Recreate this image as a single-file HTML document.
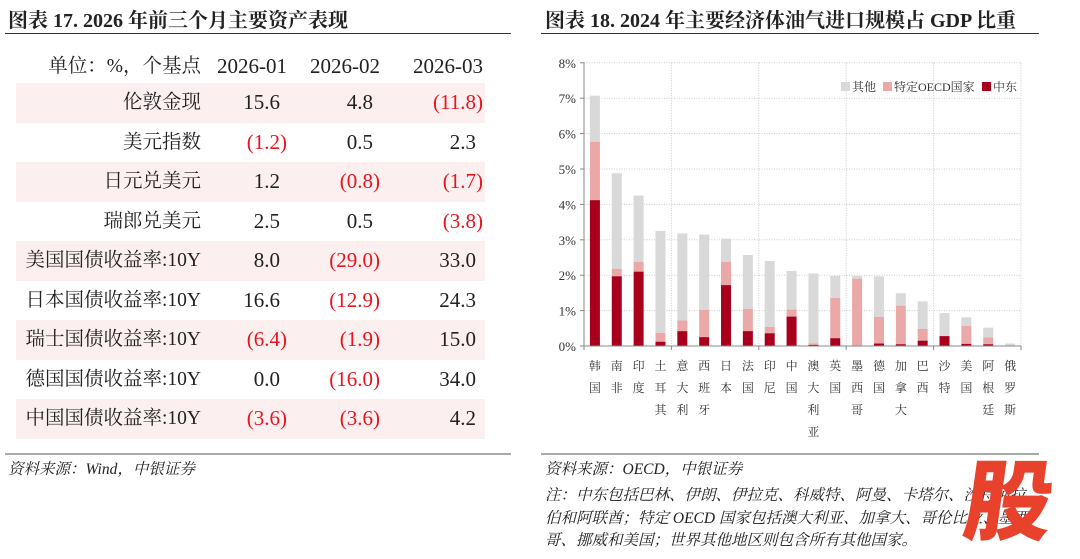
<!DOCTYPE html>
<html><head><meta charset="utf-8"><style>
body{margin:0;width:1080px;height:551px;background:#fff;position:relative;overflow:hidden;font-family:"Liberation Serif","Noto Serif CJK SC",serif;color:#222}
.abs{position:absolute;white-space:nowrap}
.title{font-weight:bold;font-size:20px;top:4px}
.rule{position:absolute;height:1px;background:#333}
.brule{position:absolute;height:2px;background:#aaa}
.row{position:absolute;left:16px;width:469px;height:39.5px}
.sh{background:#fcefef}
.c{position:absolute;font-size:21px;line-height:39px;text-align:right}
.lab{font-size:19.5px}
.r{color:#e8141e}
.src{font-style:italic;font-size:15.5px}
</style></head><body>
<div class="abs title" style="left:8px">图表 17. 2026 年前三个月主要资产表现</div>
<div class="rule" style="left:5px;top:33px;width:506px"></div>
<div class="abs title" style="left:545px">图表 18. 2024 年主要经济体油气进口规模占 GDP 比重</div>
<div class="rule" style="left:541px;top:33px;width:498px"></div>

<div id="tbl"></div>

<div class="brule" style="left:5px;top:453px;width:506px"></div>
<div class="abs src" style="left:8px;top:457px">资料来源：Wind，中银证券</div>
<div class="brule" style="left:541px;top:453px;width:498px"></div>
<div class="abs src" style="left:545px;top:457px">资料来源：OECD，中银证券</div>
<div class="abs src" style="left:545px;top:483px">注：中东包括巴林、伊朗、伊拉克、科威特、阿曼、卡塔尔、沙特阿拉</div>
<div class="abs src" style="left:545px;top:506px">伯和阿联酋；特定 OECD 国家包括澳大利亚、加拿大、哥伦比亚、墨西</div>
<div class="abs src" style="left:545px;top:528px">哥、挪威和美国；世界其他地区则包含所有其他国家。</div>

<svg class="abs" style="left:0;top:0" width="1080" height="551" id="ch"></svg>
<div class="abs" style="left:966px;top:448px;font-family:'Noto Sans CJK SC',sans-serif;font-weight:900;font-size:88px;line-height:96px;color:#e8412c;transform:skewX(-8deg)">股</div>

<script>
var rows=[["单位：%，个基点","2026-01","2026-02","2026-03"],
["伦敦金现","15.6","4.8","(11.8)"],["美元指数","(1.2)","0.5","2.3"],["日元兑美元","1.2","(0.8)","(1.7)"],
["瑞郎兑美元","2.5","0.5","(3.8)"],["美国国债收益率:10Y","8.0","(29.0)","33.0"],["日本国债收益率:10Y","16.6","(12.9)","24.3"],
["瑞士国债收益率:10Y","(6.4)","(1.9)","15.0"],["德国国债收益率:10Y","0.0","(16.0)","34.0"],["中国国债收益率:10Y","(3.6)","(3.6)","4.2"]];
var h="",rights=[287,380,483];
rows.forEach(function(r,i){
 var top=i==0?47:83+(i-1)*39.5;
 h+='<div class="row'+(i%2==1?' sh':'')+'" style="top:'+top+'px"></div>';
 h+='<div class="c lab" style="top:'+top+'px;right:'+(1080-201)+'px">'+r[0]+'</div>';
 for(var j=1;j<4;j++){var v=r[j],neg=v[0]=="(";var pr=rights[j-1]-(i>0&&!neg?7:0);
  h+='<div class="c'+(neg?' r':'')+'" style="top:'+top+'px;right:'+(1080-pr)+'px">'+v+'</div>';}
});
document.getElementById('tbl').innerHTML=h;
var d=[["韩国",4.12,5.77,7.07],["南非",1.97,2.18,4.88],["印度",2.1,2.38,4.25],["土耳其",0.12,0.37,3.25],["意大利",0.42,0.72,3.18],
["西班牙",0.25,1.02,3.15],["日本",1.72,2.38,3.03],["法国",0.42,1.05,2.57],["印尼",0.36,0.54,2.4],["中国",0.83,1.03,2.12],
["澳大利亚",0.03,0.07,2.05],["英国",0.22,1.36,1.98],["墨西哥",0,1.9,1.98],["德国",0.07,0.82,1.97],["加拿大",0.05,1.14,1.49],
["巴西",0.15,0.48,1.26],["沙特",0.28,0.28,0.93],["美国",0.06,0.57,0.81],["阿根廷",0.05,0.24,0.52],["俄罗斯",0,0,0.07]];
var X0=584,X1=1021,Y0=346,k=35.4,w=(X1-X0)/20,s="";
function y(v){return Y0-k*v}
for(var i=1;i<=8;i++)s+='<line x1="'+X0+'" x2="'+X1+'" y1="'+y(i)+'" y2="'+y(i)+'" stroke="#ccc" stroke-dasharray="1,1.5"/>';
for(var i=4;i<=20;i+=4){var xx=X0+i*w;s+='<line x1="'+xx+'" x2="'+xx+'" y1="'+y(8)+'" y2="'+Y0+'" stroke="#ccc" stroke-dasharray="1,1.5"/>';}
for(var i=0;i<=8;i++)s+='<text x="'+(X0-8)+'" y="'+(y(i)+5)+'" font-size="13" text-anchor="end" font-family="Liberation Serif" fill="#333">'+i+'%</text><line x1="'+(X0-4)+'" x2="'+X0+'" y1="'+y(i)+'" y2="'+y(i)+'" stroke="#888"/>';
d.forEach(function(r,i){var cx=X0+w*(i+0.5),bx=cx-5;
 s+='<rect x="'+bx+'" y="'+y(r[3])+'" width="10" height="'+(k*(r[3]-r[2]))+'" fill="#d9d9d9"/>';
 s+='<rect x="'+bx+'" y="'+y(r[2])+'" width="10" height="'+(k*(r[2]-r[1]))+'" fill="#eaa8a8"/>';
 s+='<rect x="'+bx+'" y="'+y(r[1])+'" width="10" height="'+(k*r[1])+'" fill="#a8001c"/>';
 for(var c=0;c<r[0].length;c++)s+='<text x="'+cx+'" y="'+(370+c*22)+'" font-size="12" text-anchor="middle" font-family="Noto Serif CJK SC,serif" fill="#333">'+r[0][c]+'</text>';
});
s+='<line x1="'+X0+'" x2="'+X0+'" y1="'+y(8)+'" y2="'+Y0+'" stroke="#888"/><line x1="'+X0+'" x2="'+X1+'" y1="'+Y0+'" y2="'+Y0+'" stroke="#888"/>';
for(var i=0;i<=20;i+=4){var xx=X0+i*w;s+='<line x1="'+xx+'" x2="'+xx+'" y1="'+Y0+'" y2="'+(Y0+4)+'" stroke="#888"/>';}
s+='<rect x="841" y="82" width="9" height="9" fill="#d9d9d9"/><text x="852" y="91" font-size="12" font-family="Liberation Serif,Noto Serif CJK SC,serif" fill="#333">其他</text>';
s+='<rect x="883" y="82" width="9" height="9" fill="#eaa8a8"/><text x="894" y="91" font-size="12" font-family="Liberation Serif,Noto Serif CJK SC,serif" fill="#333">特定OECD国家</text>';
s+='<rect x="982" y="82" width="9" height="9" fill="#a8001c"/><text x="993" y="91" font-size="12" font-family="Liberation Serif,Noto Serif CJK SC,serif" fill="#333">中东</text>';
document.getElementById('ch').innerHTML=s;
</script>
</body></html>
